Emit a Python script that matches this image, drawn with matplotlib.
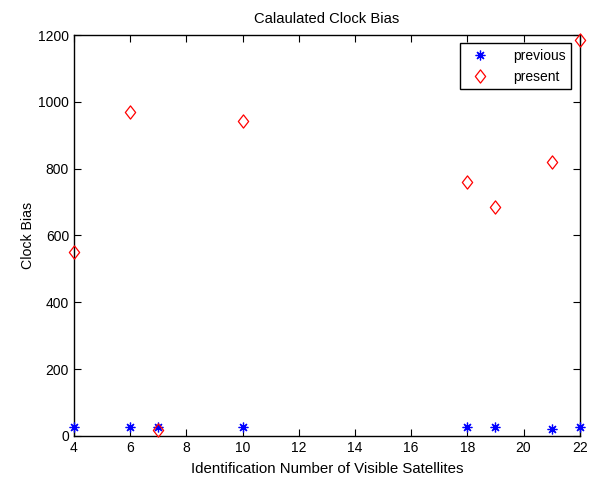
import matplotlib.pyplot as plt
from matplotlib.path import Path

plt.rcParams['font.family'] = ['Liberation Sans', 'DejaVu Sans']
plt.rcParams['font.size'] = 10

sat_ids = [4, 6, 7, 10, 18, 19, 21, 22]
previous_bias = [25, 25, 25, 25, 25, 25, 20, 25]
present_bias = [551, 970, 18, 943, 760, 686, 820, 1185]

# matlab-ish diamond, a bit taller than wide
diamond = Path([(0, 1), (0.78, 0), (0, -1), (-0.78, 0), (0, 1)],
               [Path.MOVETO, Path.LINETO, Path.LINETO, Path.LINETO, Path.CLOSEPOLY])

fig = plt.figure(figsize=(5.91, 4.8), dpi=100)
ax = fig.add_axes([0.125, 0.092, 0.856, 0.835])

ax.plot(sat_ids, previous_bias, linestyle='none', marker=(8, 2, 0), color='#0000ff',
        markersize=7, markeredgewidth=0.9, label='previous', clip_on=False, zorder=3)
ax.plot(sat_ids, present_bias, linestyle='none', marker=diamond, color='red',
        markerfacecolor='none', markersize=9.5, markeredgewidth=0.9, label='present',
        clip_on=False, zorder=3)

ax.set_xlim(4, 22)
ax.set_ylim(0, 1200)
ax.set_xticks(range(4, 23, 2))
ax.set_yticks(range(0, 1201, 200))
ax.tick_params(direction='in', top=True, right=True, length=5, labelsize=10)
for s in ax.spines.values():
    s.set_linewidth(1.0)

ax.set_title('Calaulated Clock Bias', fontsize=10.6, pad=9)
ax.set_xlabel('Identification Number of Visible Satellites', fontsize=10.8, labelpad=5)
ax.set_ylabel('Clock Bias', fontsize=10.2, labelpad=2)

leg = ax.legend(loc='upper right', fancybox=False, edgecolor='black',
                framealpha=1, borderaxespad=0.6, handletextpad=1.4,
                handlelength=2.0, fontsize=10)
leg.get_frame().set_linewidth(1.0)

fig.savefig('out.png', dpi=100)
